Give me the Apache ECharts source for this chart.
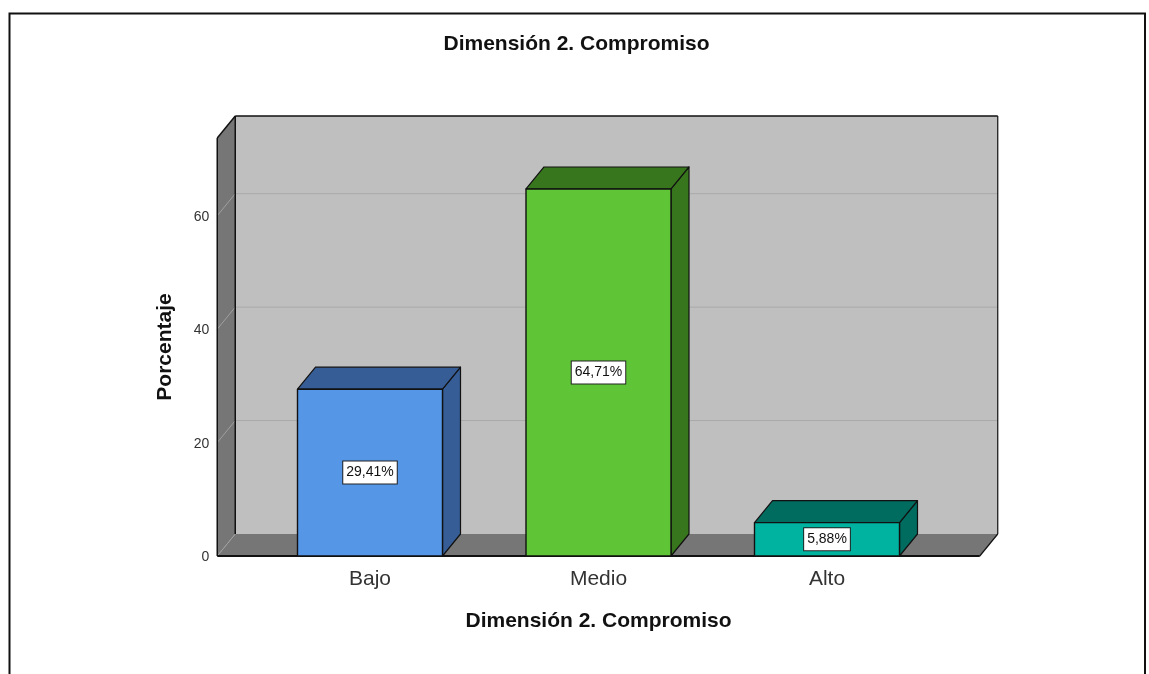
<!DOCTYPE html>
<html>
<head>
<meta charset="utf-8">
<style>html,body{margin:0;padding:0;background:#fff}#c{width:1149px;height:674px}</style>
<script src="https://cdn.jsdelivr.net/npm/echarts@6/dist/echarts.min.js"></script>
</head>
<body>
<div id="c"></div>
<script>
var categories = ['Bajo', 'Medio', 'Alto'];
var values = [29.41, 64.71, 5.88];
var valueLabels = ['29,41%', '64,71%', '5,88%'];
var gridValues = [20, 40, 60];
var frontColors = ['#5596e6', '#5fc536', '#00b3a0'];
var topColors = ['#365d96', '#38761d', '#006b5f'];
var sideColors = ['#365d96', '#38761d', '#006b5f'];

var DX = 18, DY = -22, PAD = 38.5, BAR_W = 145;
var ink = '#111';

function poly(points, fill, stroke, lw) {
  return { type: 'polygon', shape: { points: points }, style: { fill: fill, stroke: stroke || 'none', lineWidth: lw || 0, lineJoin: 'round' } };
}
function seg(x1, y1, x2, y2, color, lw) {
  return { type: 'line', shape: { x1: x1, y1: y1, x2: x2, y2: y2 }, style: { stroke: color, lineWidth: lw } };
}

function renderWalls(params, api) {
  var cs = params.coordSys;
  var L = cs.x - PAD, R = cs.x + cs.width + PAD, T = cs.y, B = cs.y + cs.height;
  var ch = [];
  ch.push(poly([[L + DX, T + DY], [R + DX, T + DY], [R + DX, B + DY], [L + DX, B + DY]], '#bfbfbf'));
  ch.push(poly([[L, T], [L + DX, T + DY], [L + DX, B + DY], [L, B]], '#767676'));
  ch.push(poly([[L, B], [L + DX, B + DY], [R + DX, B + DY], [R, B]], '#767676'));
  gridValues.forEach(function (v) {
    var y = api.coord([0, v])[1];
    ch.push(seg(L, y, L + DX, y + DY, '#a0a0a0', 1));
    ch.push(seg(L + DX, y + DY, R + DX, y + DY, '#a9a9a9', 1));
  });
  ch.push(seg(L, B, L + DX, B + DY, '#a0a0a0', 1));
  ch.push(seg(L, T, L + DX, T + DY, ink, 1.5));
  ch.push(seg(L, T, L, B, ink, 1.5));
  ch.push(seg(L + DX, T + DY, L + DX, B + DY, ink, 1.5));
  ch.push(seg(L + DX, T + DY, R + DX, T + DY, ink, 1.5));
  ch.push(seg(R + DX, T + DY, R + DX, B + DY, ink, 1.2));
  ch.push(seg(R + DX, B + DY, R, B, ink, 1.2));
  ch.push(seg(L, B, R, B, ink, 1.8));
  return { type: 'group', children: ch };
}

function renderBar(params, api) {
  var i = api.value(0);
  var top = api.coord([i, api.value(1)]);
  var base = api.coord([i, 0]);
  var x0 = top[0] - BAR_W / 2, x1 = top[0] + BAR_W / 2, yT = top[1], yB = base[1];
  return {
    type: 'group',
    children: [
      poly([[x1, yT], [x1 + DX, yT + DY], [x1 + DX, yB + DY], [x1, yB]], sideColors[i], ink, 1.2),
      poly([[x0, yT], [x0 + DX, yT + DY], [x1 + DX, yT + DY], [x1, yT]], topColors[i], ink, 1.2),
      poly([[x0, yT], [x1, yT], [x1, yB], [x0, yB]], frontColors[i], ink, 1.4),
      {
        type: 'text',
        x: top[0],
        y: (yT + yB) / 2,
        style: {
          text: valueLabels[i],
          fontFamily: 'Liberation Sans',
          fontSize: 14,
          fill: '#111',
          align: 'center',
          verticalAlign: 'middle',
          backgroundColor: '#fff',
          borderColor: '#222',
          borderWidth: 1,
          padding: [5, 3, 3, 3]
        }
      }
    ]
  };
}

var chart = echarts.init(document.getElementById('c'));
chart.setOption({
  animation: false,
  backgroundColor: '#fff',
  title: {
    text: 'Dimensión 2. Compromiso',
    left: 571.5, top: 29, textAlign: 'center',
    textStyle: { fontFamily: 'Liberation Sans', fontSize: 21, fontWeight: 'bold', color: '#111' }
  },
  grid: { left: 255.75, top: 138, width: 685.5, height: 418 },
  xAxis: {
    type: 'category',
    data: categories,
    axisLine: { show: false },
    axisTick: { show: false },
    axisLabel: { fontFamily: 'Liberation Sans', fontSize: 21, color: '#333', margin: 13 },
    name: 'Dimensión 2. Compromiso',
    nameLocation: 'middle',
    nameGap: 55,
    nameTextStyle: { fontFamily: 'Liberation Sans', fontSize: 21, fontWeight: 'bold', color: '#111' }
  },
  yAxis: {
    type: 'value',
    min: 0, max: 73.7, interval: 20,
    offset: 38.5,
    axisLine: { show: false },
    axisTick: { show: false },
    splitLine: { show: false },
    axisLabel: { fontFamily: 'Liberation Sans', fontSize: 14, color: '#333', margin: 8, showMaxLabel: false, verticalAlign: 'top', lineHeight: 3 },
    name: 'Porcentaje',
    nameLocation: 'middle',
    nameRotate: 90,
    nameGap: 42,
    nameTextStyle: { fontFamily: 'Liberation Sans', fontSize: 21, fontWeight: 'bold', color: '#111' }
  },
  series: [
    { type: 'custom', z: 1, silent: true, clip: false, renderItem: renderWalls, data: [[0, 0]] },
    { type: 'custom', z: 2, silent: true, clip: false, renderItem: renderBar, encode: { x: 0, y: 1 },
      data: values.map(function (v, i) { return [i, v]; }) }
  ],
  graphic: [{
    type: 'polyline', silent: true,
    shape: { points: [[9.5, 674], [9.5, 13.5], [1145, 13.5], [1145, 674]] },
    style: { fill: 'none', stroke: '#111', lineWidth: 2 }
  }]
});
</script>
</body>
</html>
